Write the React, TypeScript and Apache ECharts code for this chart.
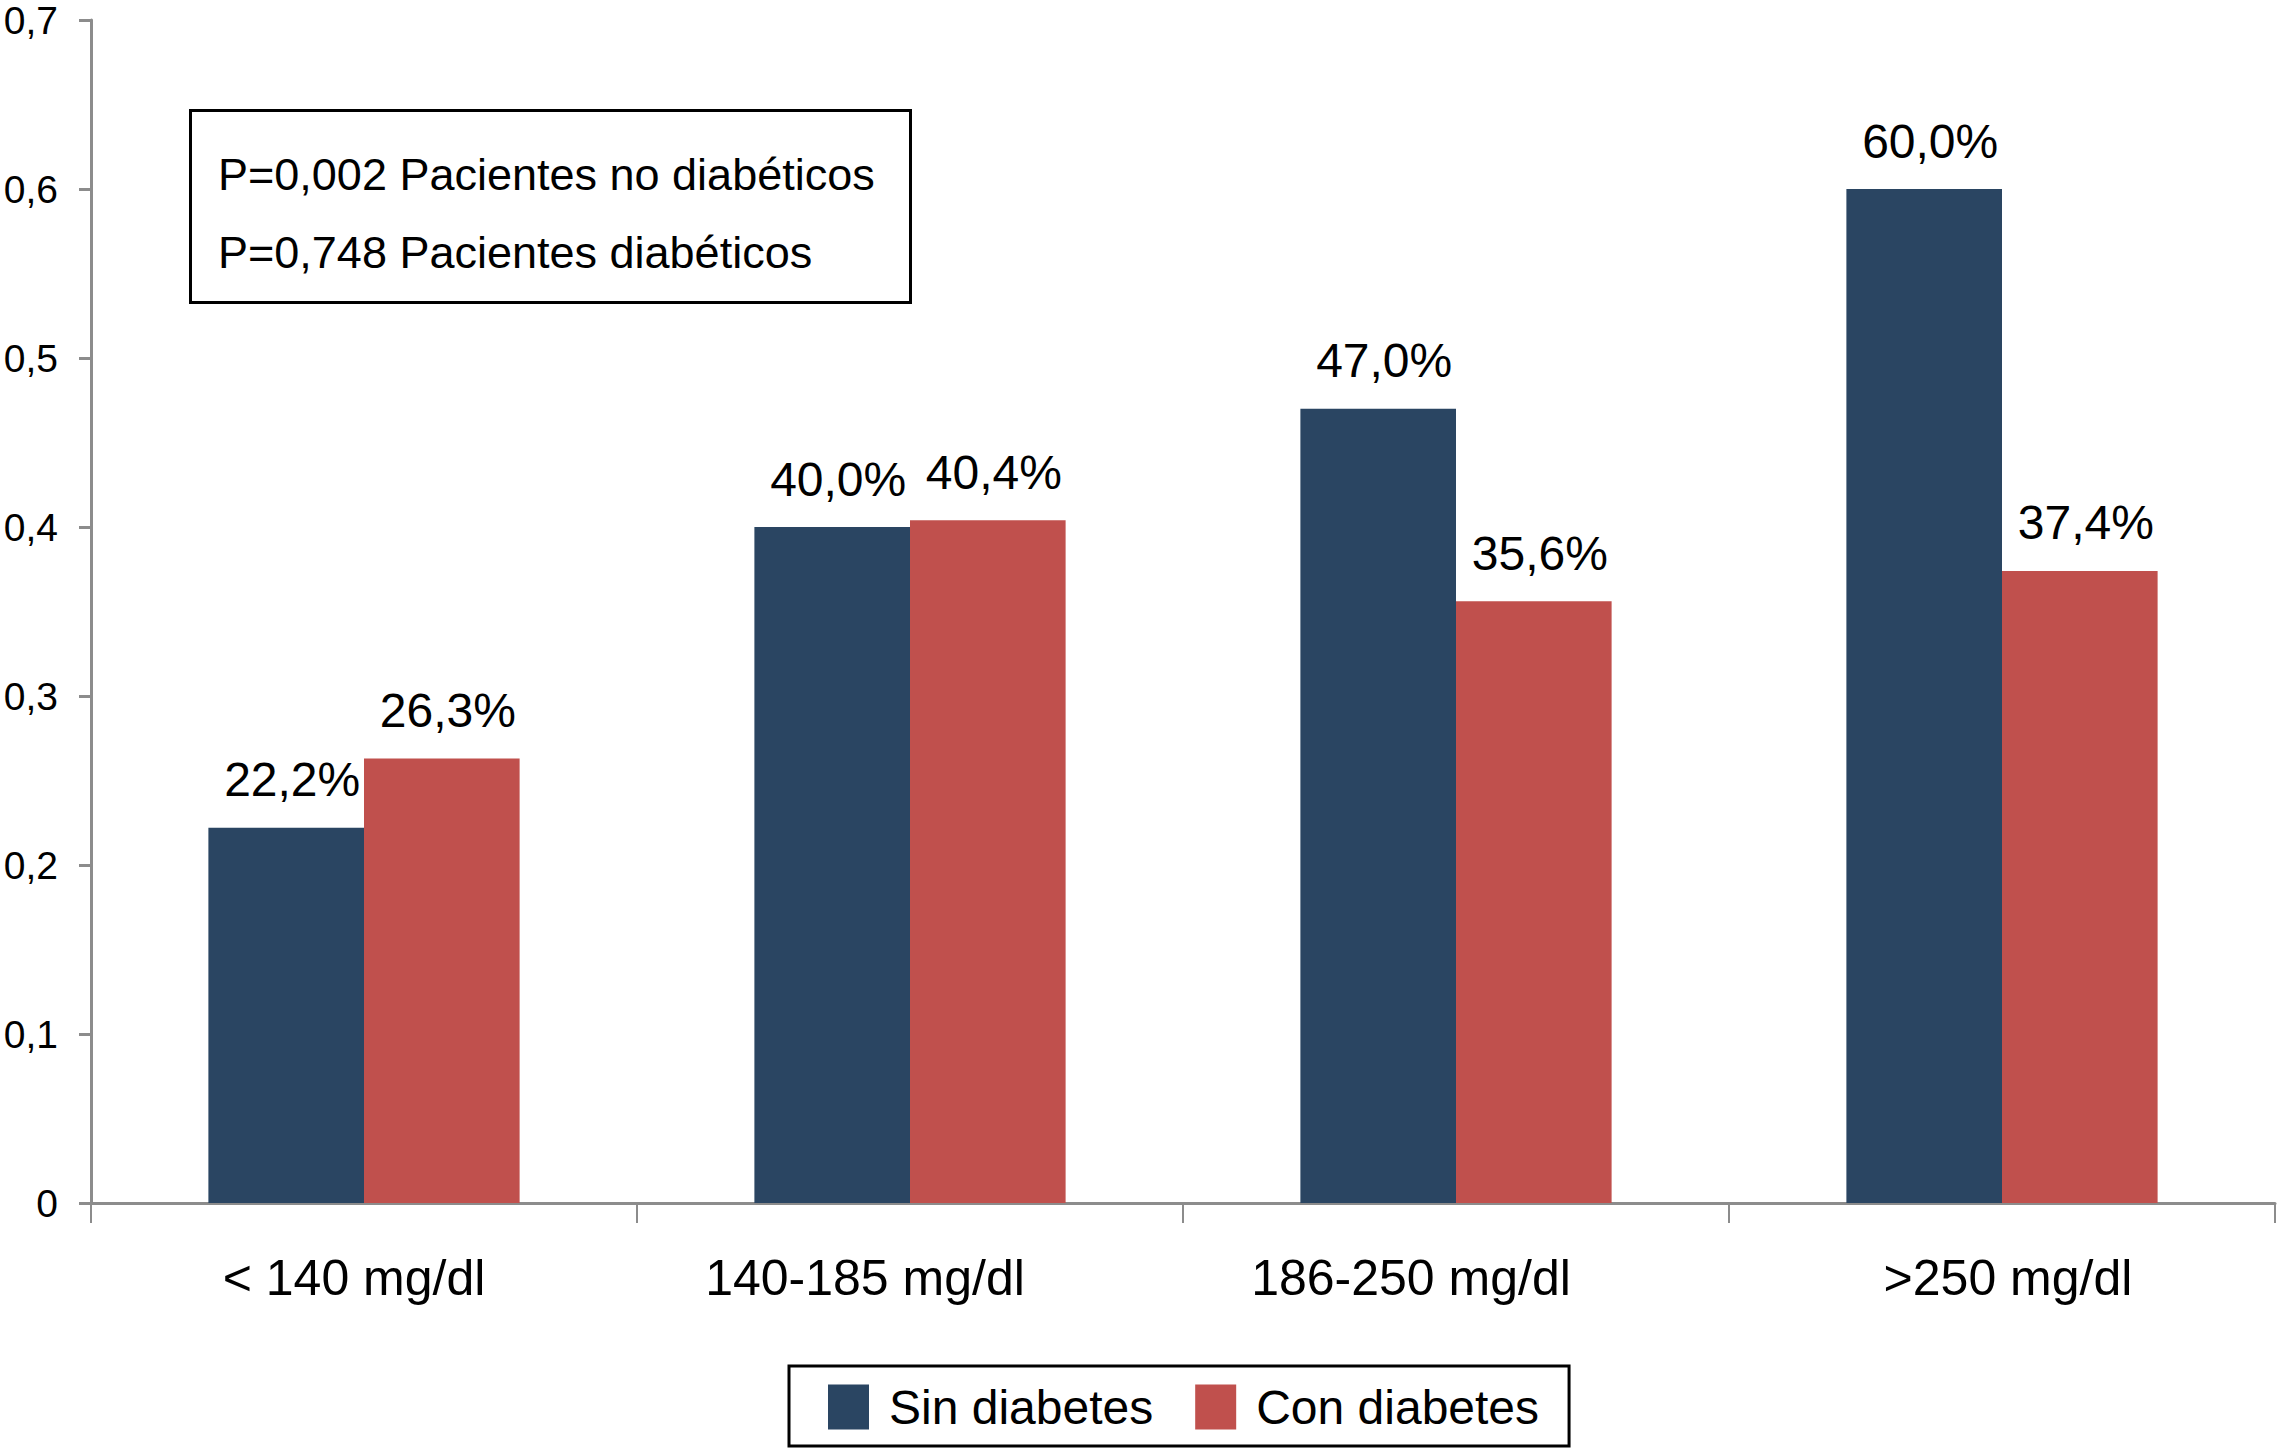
import React, { useEffect, useRef } from "react";
import * as echarts from "echarts";

const categories = ["< 140 mg/dl", "140-185 mg/dl", "186-250 mg/dl", ">250 mg/dl"];
const sinDiabetes = [0.222, 0.4, 0.47, 0.6];
const conDiabetes = [0.263, 0.404, 0.356, 0.374];
const pLines = ["P=0,002 Pacientes no diabéticos", "P=0,748 Pacientes diabéticos"];

// horizontal nudge of each category label (px, negative = left), as in the original
const labelShift = [-10, -45, -45, 6];

const FONT = "'Liberation Sans', Arial, Helvetica, sans-serif";
const BLUE = "#2A4562";
const RED = "#C0504D";
const AXIS = "#8C8C8C";

const pct = (v: number) => (v * 100).toFixed(1).replace(".", ",") + "%";

const App: React.FC = () => {
  const chartRef = useRef<HTMLDivElement>(null);

  useEffect(() => {
    document.body.style.margin = "0";
    if (!chartRef.current) return;
    const chart = echarts.init(chartRef.current, undefined, { renderer: "svg" });

    const label = {
      show: true,
      position: "top",
      distance: 24,
      offset: [6, 0],
      color: "#000",
      fontFamily: FONT,
      fontSize: 48,
      formatter: (p: any) => pct(p.value),
    };

    chart.setOption({
      animation: false,
      backgroundColor: "#fff",
      grid: { left: 91, right: 3, top: 20, bottom: 248, outerBoundsMode: "none" },
      legend: {
        left: 789,
        top: 1366,
        orient: "horizontal",
        icon: "rect",
        itemWidth: 41,
        itemHeight: 45,
        itemGap: 42,
        borderColor: "#000",
        borderWidth: 3,
        padding: [17, 30, 15, 39],
        textStyle: {
          fontFamily: FONT,
          fontSize: 48,
          color: "#000",
          padding: [0, 0, 0, 15],
        },
        data: ["Sin diabetes", "Con diabetes"],
      },
      xAxis: {
        type: "category",
        data: categories.map((c, i) => ({
          value: c,
          textStyle: {
            padding: labelShift[i] < 0 ? [0, -2 * labelShift[i], 0, 0] : [0, 0, 0, 2 * labelShift[i]],
          },
        })),
        axisLine: { lineStyle: { color: AXIS, width: 3 } },
        axisTick: { show: true, length: 20, lineStyle: { color: AXIS, width: 2 } },
        axisLabel: {
          margin: 50,
          color: "#000",
          fontFamily: FONT,
          fontSize: 50,
        },
      },
      yAxis: {
        type: "value",
        min: 0,
        max: 0.7,
        interval: 0.1,
        splitLine: { show: false },
        axisLine: { show: true, lineStyle: { color: AXIS, width: 3 } },
        axisTick: { show: true, length: 12, lineStyle: { color: AXIS, width: 3 } },
        axisLabel: {
          margin: 33,
          color: "#000",
          fontFamily: FONT,
          fontSize: 39,
          lineHeight: 32,
          formatter: (v: number) => (v === 0 ? "0" : v.toFixed(1).replace(".", ",")),
        },
      },
      graphic: [
        {
          type: "rect",
          left: 189,
          top: 109,
          shape: { width: 720, height: 192 },
          style: { fill: "#fff", stroke: "#000", lineWidth: 3 },
          z: 10,
        },
        {
          type: "text",
          left: 218,
          top: 152,
          style: { text: pLines[0], fontFamily: FONT, fontSize: 45, fill: "#000" },
          z: 11,
        },
        {
          type: "text",
          left: 218,
          top: 230,
          style: { text: pLines[1], fontFamily: FONT, fontSize: 45, fill: "#000" },
          z: 11,
        },
      ],
      series: [
        {
          name: "Sin diabetes",
          type: "bar",
          data: sinDiabetes,
          barGap: "0%",
          barCategoryGap: "43%",
          itemStyle: { color: BLUE },
          label,
        },
        {
          name: "Con diabetes",
          type: "bar",
          data: conDiabetes,
          barGap: "0%",
          barCategoryGap: "43%",
          itemStyle: { color: RED },
          label,
        },
      ],
    });

    return () => {
      chart.dispose();
    };
  }, []);

  return <div ref={chartRef} style={{ width: 2278, height: 1451 }} />;
};

export default App;
